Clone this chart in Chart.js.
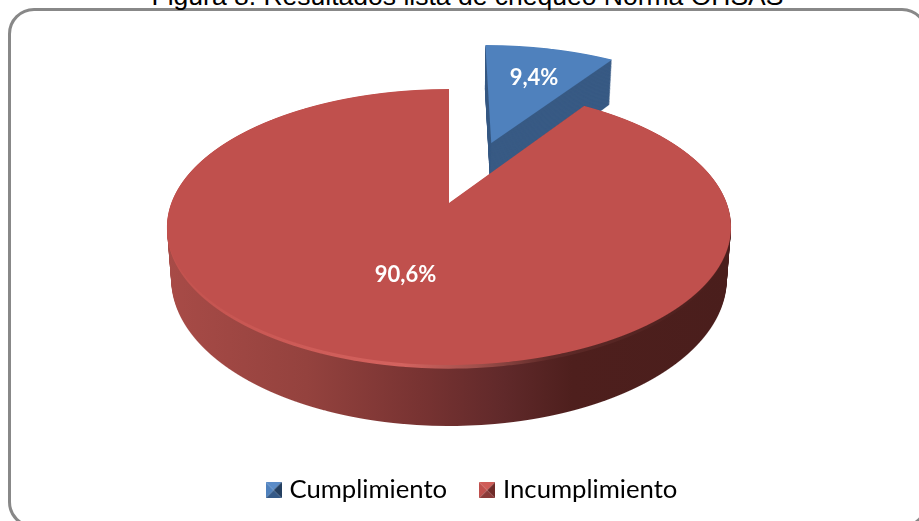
<!DOCTYPE html>
<html>
<head>
<meta charset="utf-8">
<title>Resultados lista de chequeo</title>
<script src="https://cdn.jsdelivr.net/npm/chart.js@4/dist/chart.umd.min.js"></script>
<style>
    html, body { margin: 0; padding: 0; width: 919px; height: 521px; overflow: hidden; background: #fff; }
    #frame { position: absolute; left: 8px; top: 8px; width: 920px; height: 520px; border: 3px solid #888; border-radius: 26px; box-sizing: border-box; }
    #title { position: absolute; left: 0; width: 935px; top: -19px; text-align: center; font: 26.5px "Liberation Sans", Arial, sans-serif; color: #000; white-space: nowrap; }
    canvas { position: absolute; left: 0; top: 0; }
</style>
</head>
<body>
<div id="frame"></div>
<div id="title">Figura 8. Resultados lista de chequeo Norma OHSAS</div>
<canvas id="chart" width="919" height="521"></canvas>
<script>
const categories = ['Cumplimiento', 'Incumplimiento'];
const values = [9.4, 90.6];
const valueLabels = ['9,4%', '90,6%'];
const faceColors = ['#4f81bd', '#c0504d'];

// Tilted pie projection: circle coordinates (u, v) go through a homography
const APEX_X = 449;
const APEX_Y = 203;
const PROJ_A = 133.8;
const PROJ_C = 277.7;
const PROJ_K = -0.174;
const DEPTH = 50.4;
const BLUE_DEPTH = 55;
const WALL_TAPER = 0.015;

// How far each slice is pulled out, and where its label sits (fractions of the radius)
const explodeX = [0.165, 0];
const explodeY = [-0.486, 0];
const labelRadius = [0.66, 0.515];
const LABEL_SHIFT_X = 2;

const WIDTH = 919;
const HEIGHT = 521;

/**
 * Draw one arc element row by row through the projection
 */
function drawProjected(c, el, index, t, depth, color) {
    const R = el.outerRadius;
    const dx = explodeX[index] * R;
    const dy = explodeY[index] * R;
    const vMin = explodeY[index] - 1.02;
    const vMax = explodeY[index] + 1.02;
    const saved = el.options;
    if (color) {
        el.options = Object.assign({}, saved, { backgroundColor: color });
    }
    for (let row = 0; row < HEIGHT; row++) {
        const rel = row + 0.5 - APEX_Y;
        const v = (rel - t * depth) / (PROJ_A - PROJ_K * rel);
        if (v < vMin || v > vMax) {
            continue;
        }
        const w = 1 + PROJ_K * v;
        const sx = PROJ_C / w / R * (1 - WALL_TAPER * t);
        const sy = (PROJ_A - PROJ_K * t * depth) / (w * w) / R;
        c.save();
        c.beginPath();
        c.rect(0, row, WIDTH, 1);
        c.clip();
        c.setTransform(sx, 0, 0, sy, APEX_X - el.x * sx, row + 0.5 - (el.y + v * R) * sy);
        c.translate(dx, dy);
        el.draw(c);
        c.restore();
    }
    el.options = saved;
}

/**
 * Sweep an arc down through the depth on a spare canvas, then shade it left to right
 */
function sweptLayer(el, index, tFrom, tTo, steps, stops) {
    const layer = document.createElement('canvas');
    layer.width = WIDTH;
    layer.height = HEIGHT;
    const c = layer.getContext('2d');
    for (let i = 0; i <= steps; i++) {
        const t = tFrom + (tTo - tFrom) * i / steps;
        drawProjected(c, el, index, t, DEPTH, '#000');
    }
    const shade = c.createLinearGradient(166, 0, 730, 0);
    stops.forEach(function(stop) {
        shade.addColorStop(stop[0], stop[1]);
    });
    c.globalCompositeOperation = 'source-atop';
    c.fillStyle = shade;
    c.fillRect(0, 0, WIDTH, HEIGHT);
    return layer;
}

function projectPoint(u, v) {
    const w = 1 + PROJ_K * v;
    return { x: APEX_X + PROJ_C * u / w, y: APEX_Y + PROJ_A * v / w };
}

const pie3dPlugin = {
    id: 'pie3d',
    beforeDatasetsDraw: function(chart) {
        const ctx = chart.ctx;
        const arcs = chart.getDatasetMeta(0).data;

        // blue slice, pulled out and behind the red one
        for (let i = 55; i >= 1; i--) {
            drawProjected(ctx, arcs[0], 0, i / 55, BLUE_DEPTH, '#385a84');
        }
        drawProjected(ctx, arcs[0], 0, 0, BLUE_DEPTH);

        // red slice: wall, bright rim, face
        ctx.drawImage(sweptLayer(arcs[1], 1, 0.06, 1, 34, [
            [0, '#a84b47'], [0.25, '#94423e'], [0.45, '#783332'], [0.6, '#60292a'],
            [0.72, '#4e1f1d'], [1, '#4a1e1c']
        ]), 0, 0);
        ctx.drawImage(sweptLayer(arcs[1], 1, 0.01, 0.06, 3, [
            [0, '#c2524e'], [0.2, '#cc5a56'], [0.42, '#d4635f'], [0.55, '#a0504c'],
            [0.68, '#5e2a28'], [1, '#4a1e1c']
        ]), 0, 0);
        drawProjected(ctx, arcs[1], 1, 0, DEPTH);

        // value labels
        ctx.save();
        ctx.fillStyle = '#fff';
        ctx.font = 'bold 22px Lato, sans-serif';
        ctx.textAlign = 'center';
        ctx.textBaseline = 'middle';
        arcs.forEach(function(el, i) {
            const mid = (el.startAngle + el.endAngle) / 2;
            const p = projectPoint(explodeX[i] + Math.cos(mid) * labelRadius[i], explodeY[i] + Math.sin(mid) * labelRadius[i]);
            ctx.fillText(valueLabels[i], p.x + LABEL_SHIFT_X, p.y);
        });
        ctx.restore();
        return false;
    }
};

/**
 * Legend marker: small square split into four shaded triangles
 */
function legendMarker(top, left, right, bottom) {
    const size = 16;
    const marker = document.createElement('canvas');
    marker.width = size;
    marker.height = size;
    const c = marker.getContext('2d');
    [[0, 0, size, 0, top], [0, 0, 0, size, left], [size, 0, size, size, right], [0, size, size, size, bottom]].forEach(function(t) {
        c.fillStyle = t[4];
        c.beginPath();
        c.moveTo(t[0], t[1]);
        c.lineTo(t[2], t[3]);
        c.lineTo(size / 2, size / 2);
        c.closePath();
        c.fill();
    });
    return marker;
}

const markers = [
    legendMarker('#5b8cc8', '#4f81bd', '#243f60', '#355a88'),
    legendMarker('#cf5c58', '#c0504d', '#6e2a28', '#8a3a38')
];

new Chart(document.getElementById('chart'), {
    type: 'pie',
    data: {
        labels: categories,
        datasets: [{
            data: values,
            backgroundColor: faceColors,
            borderWidth: 0
        }]
    },
    options: {
        responsive: false,
        animation: false,
        layout: { padding: { left: 29, bottom: 8 } },
        plugins: {
            legend: {
                position: 'bottom',
                labels: {
                    usePointStyle: true,
                    pointStyleWidth: 6,
                    color: '#000',
                    padding: 37,
                    font: { family: 'Lato, sans-serif', size: 25.7 },
                    generateLabels: function() {
                        return categories.map(function(name, i) {
                            return { text: name, pointStyle: markers[i], fillStyle: faceColors[i], lineWidth: 0, index: i, fontColor: '#000' };
                        });
                    }
                }
            },
            tooltip: { enabled: false }
        }
    },
    plugins: [pie3dPlugin]
});
</script>
</body>
</html>
